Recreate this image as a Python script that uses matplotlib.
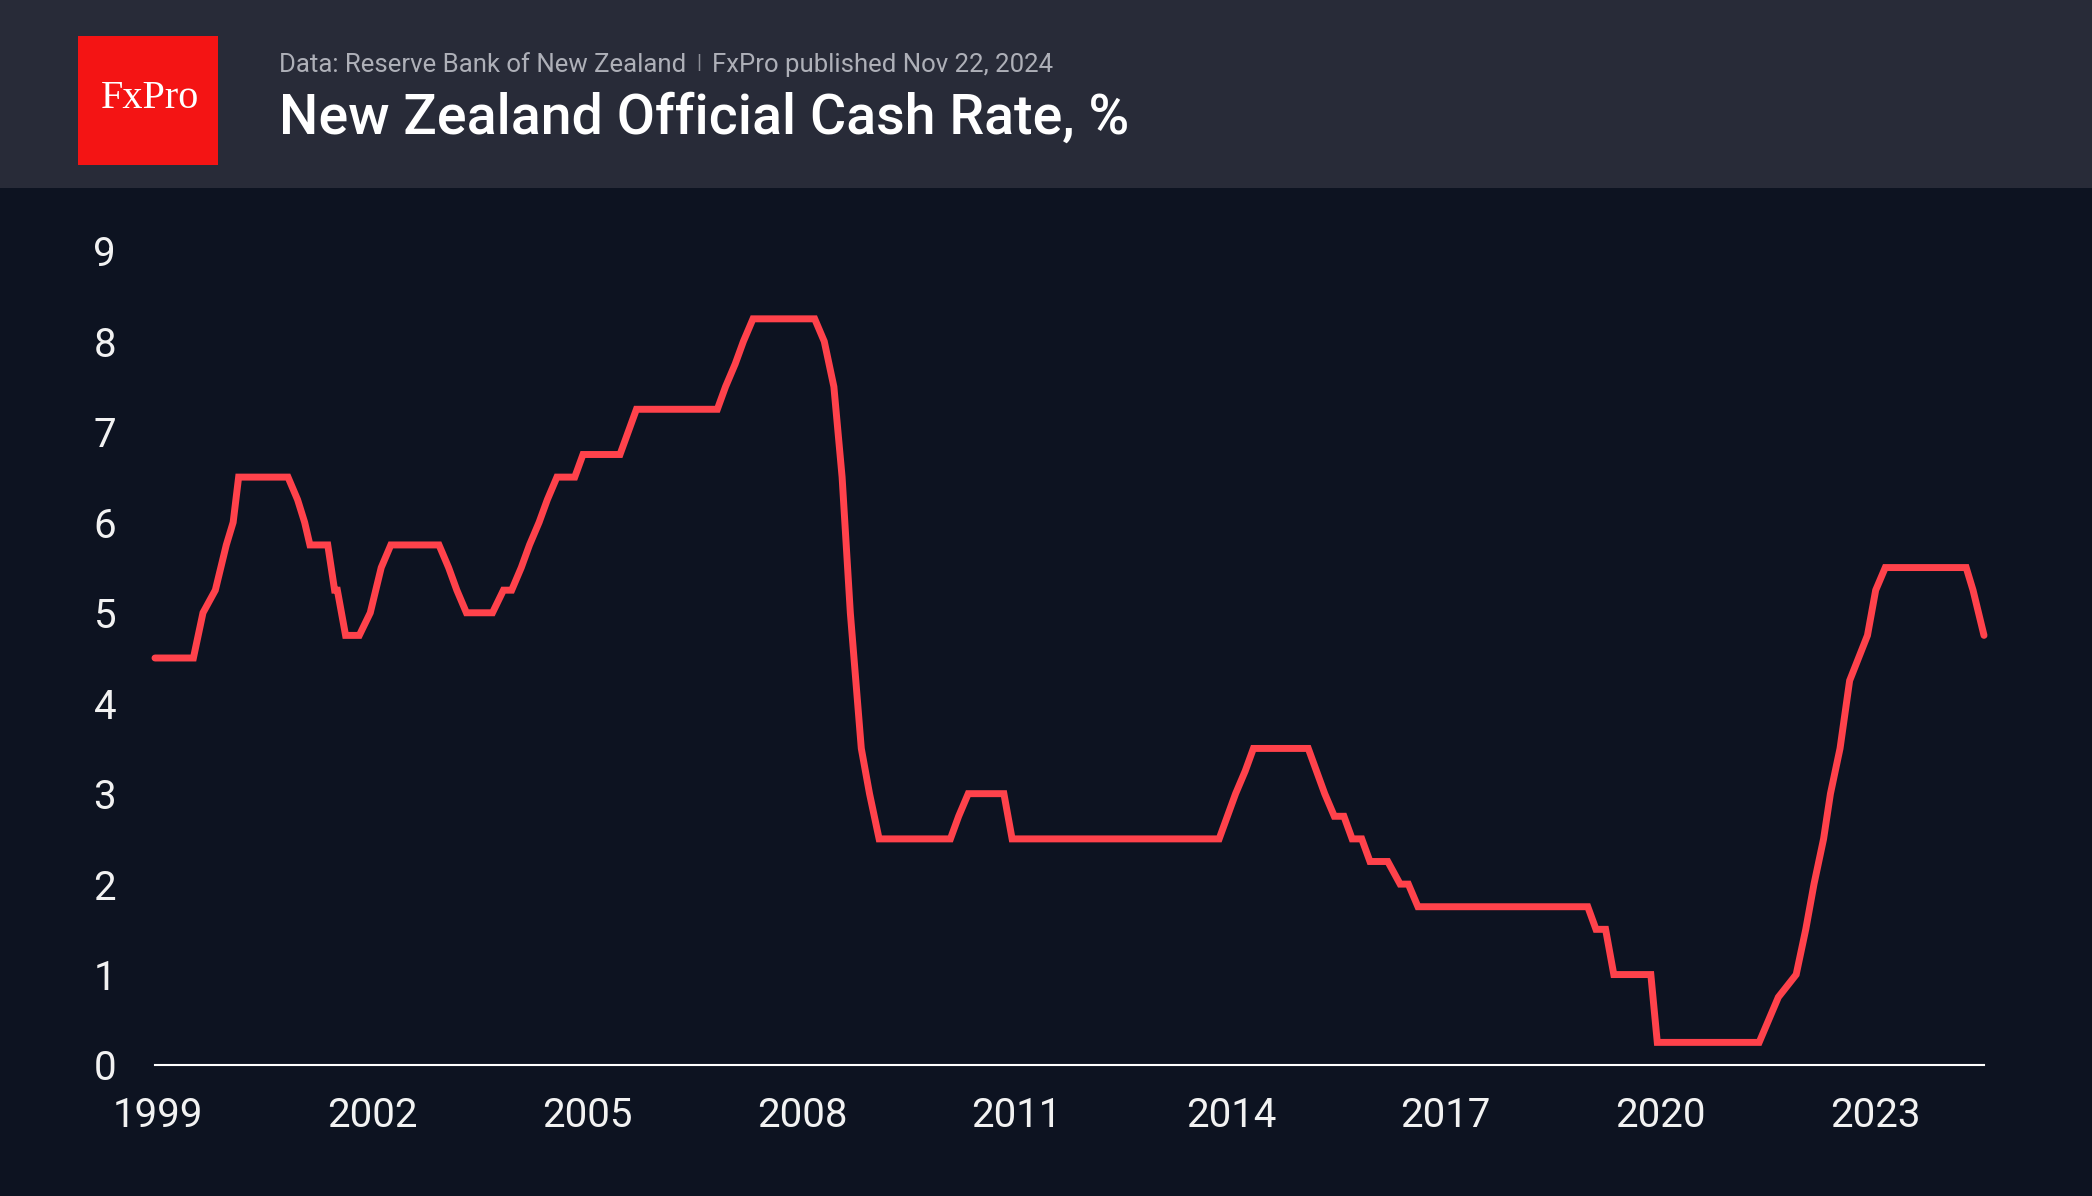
import pandas as pd
import matplotlib.pyplot as plt
import matplotlib.dates as mdates
from matplotlib.patches import Rectangle

# RBNZ OCR at review dates
dates = [
    "1999-03-17", "1999-09-29", "1999-11-17", "2000-01-19", "2000-03-15", "2000-04-19",
    "2000-05-17", "2001-01-24", "2001-03-14", "2001-04-19", "2001-05-16", "2001-08-15",
    "2001-09-19", "2001-10-03", "2001-11-14", "2002-01-23", "2002-03-20", "2002-04-17",
    "2002-05-15", "2002-07-03", "2003-03-06", "2003-04-24", "2003-06-05", "2003-07-24",
    "2003-12-04", "2004-01-29", "2004-03-11", "2004-04-29", "2004-06-10", "2004-07-29",
    "2004-09-09", "2004-10-28", "2005-01-27", "2005-03-10", "2005-09-15", "2005-10-27",
    "2005-12-08", "2007-01-25", "2007-03-08", "2007-04-26", "2007-06-07", "2007-07-26",
    "2008-06-05", "2008-07-24", "2008-09-11", "2008-10-23", "2008-12-04", "2009-01-29",
    "2009-03-12", "2009-04-30", "2010-04-29", "2010-06-10", "2010-07-29", "2011-01-27",
    "2011-03-10", "2014-01-30", "2014-03-13", "2014-04-24", "2014-06-12", "2014-07-24",
    "2015-04-30", "2015-06-11", "2015-07-23", "2015-09-10", "2015-10-29", "2015-12-10",
    "2016-01-28", "2016-03-10", "2016-06-09", "2016-08-11", "2016-09-22", "2016-11-10",
    "2019-03-27", "2019-05-08", "2019-06-26", "2019-08-07", "2020-02-12", "2020-03-16",
    "2021-08-18", "2021-10-06", "2021-11-24", "2022-02-23", "2022-04-13", "2022-05-25",
    "2022-07-13", "2022-08-17", "2022-10-05", "2022-11-23", "2023-02-22", "2023-04-05",
    "2023-05-24", "2024-07-10", "2024-08-14", "2024-10-09",
]
rates = [
    4.50, 4.50, 5.00, 5.25, 5.75, 6.00,
    6.50, 6.50, 6.25, 6.00, 5.75, 5.75,
    5.25, 5.25, 4.75, 4.75, 5.00, 5.25,
    5.50, 5.75, 5.75, 5.50, 5.25, 5.00,
    5.00, 5.25, 5.25, 5.50, 5.75, 6.00,
    6.25, 6.50, 6.50, 6.75, 6.75, 7.00,
    7.25, 7.25, 7.50, 7.75, 8.00, 8.25,
    8.25, 8.00, 7.50, 6.50, 5.00, 3.50,
    3.00, 2.50, 2.50, 2.75, 3.00, 3.00,
    2.50, 2.50, 2.75, 3.00, 3.25, 3.50,
    3.50, 3.25, 3.00, 2.75, 2.75, 2.50,
    2.50, 2.25, 2.25, 2.00, 2.00, 1.75,
    1.75, 1.50, 1.50, 1.00, 1.00, 0.25,
    0.25, 0.50, 0.75, 1.00, 1.50, 2.00,
    2.50, 3.00, 3.50, 4.25, 4.75, 5.25,
    5.50, 5.50, 5.25, 4.75,
]
tick_years = [1999, 2002, 2005, 2008, 2011, 2014, 2017, 2020, 2023]
y_ticks = list(range(0, 10))

W, H = 2092, 1196
bg = "#0d1321"
header = "#282b38"
red_line = "#ff424b"
sub_col = "#aeb0b8"

plt.rcParams['font.family'] = ['Roboto', 'DejaVu Sans']

fig = plt.figure(figsize=(W / 100, H / 100), dpi=100, facecolor=bg)

# header band and logo
fig.patches.append(Rectangle((0, 1 - 188 / H), 1, 188 / H, transform=fig.transFigure,
                             facecolor=header, edgecolor='none', zorder=0))
fig.patches.append(Rectangle((78 / W, 1 - 165 / H), 140 / W, 129 / H, transform=fig.transFigure,
                             facecolor="#f41414", edgecolor='none', zorder=1))
fig.text(150 / W, 1 - 99 / H, "FxPro", family=['Liberation Serif'], fontsize=29,
         color='white', ha='center', va='center')

# subtitle with thin separator
renderer = fig.canvas.get_renderer()
t1 = fig.text(279 / W, 1 - 72 / H, "Data: Reserve Bank of New Zealand",
              fontsize=18.5, color=sub_col, ha='left', va='baseline')
x_end = t1.get_window_extent(renderer).x1
fig.text((x_end + 13) / W, 1 - 69 / H, "|", fontsize=15, color="#8d8f98",
         ha='center', va='baseline')
fig.text((x_end + 26) / W, 1 - 72 / H, "FxPro published Nov 22, 2024",
         fontsize=18.5, color=sub_col, ha='left', va='baseline')
fig.text(279 / W, 1 - 134 / H, "New Zealand Official Cash Rate, %", fontsize=40,
         fontweight='medium', color='white', ha='left', va='baseline')

# plot area
y0, y9 = 1065, 251
unit = (y0 - y9) / 9
ytop = 9.4
ax = fig.add_axes([155 / W, 1 - y0 / H, (1984 - 155) / W, ytop * unit / H])
ax.set_facecolor(bg)

x = mdates.date2num(pd.to_datetime(dates))
ax.plot(x, rates, color=red_line, lw=5, solid_joinstyle='miter',
        solid_capstyle='round', clip_on=False, zorder=3)

ax.set_xlim(x[0], x[-1])
ax.set_ylim(0, ytop)
ax.set_xticks(mdates.date2num(pd.to_datetime([f"{y}-04-01" for y in tick_years])))
ax.set_xticklabels([str(y) for y in tick_years])
ax.set_yticks(y_ticks)
ax.set_yticklabels([str(v) for v in y_ticks])
ax.tick_params(axis='both', length=0, colors="#f2f2f2", labelsize=29)
ax.tick_params(axis='x', pad=22)
ax.tick_params(axis='y', pad=28)
for s in ['top', 'right', 'left']:
    ax.spines[s].set_visible(False)
ax.spines['bottom'].set_color('white')
ax.spines['bottom'].set_linewidth(1.5)

fig.savefig("out.png", dpi=100, facecolor=bg)
